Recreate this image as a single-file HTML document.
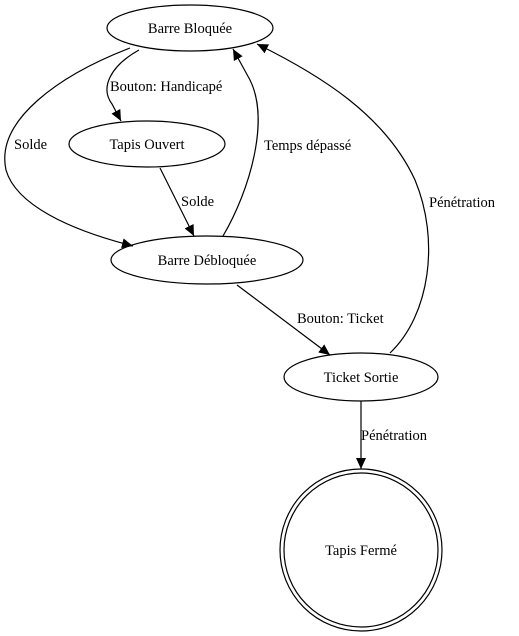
<!DOCTYPE html>
<html><head><meta charset="utf-8"><style>body{margin:0;background:#fff}svg{display:block}</style></head><body>
<svg width="519" height="636" viewBox="0 0 519 636" xmlns="http://www.w3.org/2000/svg" font-family="'Liberation Serif','Times New Roman',Times,'DejaVu Serif',serif" font-size="14.5">
<defs><marker id="a" markerWidth="11" markerHeight="10" refX="11" refY="5" orient="auto" markerUnits="userSpaceOnUse"><path d="M0,0 L11,5 L0,10 z" fill="#000"/></marker></defs>
<g fill="none" stroke="#000" stroke-width="1.2">
<ellipse cx="190" cy="28" rx="83" ry="23"/>
<ellipse cx="147" cy="144" rx="78" ry="23"/>
<ellipse cx="207" cy="260" rx="96" ry="24"/>
<ellipse cx="361" cy="377" rx="77" ry="24"/>
<circle cx="361" cy="550" r="81"/>
<circle cx="361" cy="550" r="77"/>
<path d="M139,50 C110,66 100,88 112,104 L121,121" marker-end="url(#a)"/>
<path d="M130,48 C60,75 -5,120 6,170 C16,205 70,230 133,246" marker-end="url(#a)"/>
<path d="M160,168 L194,236" marker-end="url(#a)"/>
<path d="M223,236 C250,190 270,120 250,80 L233,49" marker-end="url(#a)"/>
<path d="M237,285 L330,355" marker-end="url(#a)"/>
<path d="M390,353 C430,315 440,240 415,180 C385,115 320,75 257,44" marker-end="url(#a)"/>
<path d="M361,401 L361,469" marker-end="url(#a)"/>
</g>
<g text-anchor="middle">
<text x="190" y="33">Barre Bloquée</text>
<text x="147" y="149">Tapis Ouvert</text>
<text x="207" y="265">Barre Débloquée</text>
<text x="361" y="382">Ticket Sortie</text>
<text x="361" y="555">Tapis Fermé</text>
</g>
<text x="110" y="91">Bouton: Handicapé</text>
<text x="14" y="149">Solde</text>
<text x="181" y="206">Solde</text>
<text x="264" y="150">Temps dépassé</text>
<text x="429" y="207">Pénétration</text>
<text x="297" y="323">Bouton: Ticket</text>
<text x="361" y="440">Pénétration</text>
</svg>
</body></html>
